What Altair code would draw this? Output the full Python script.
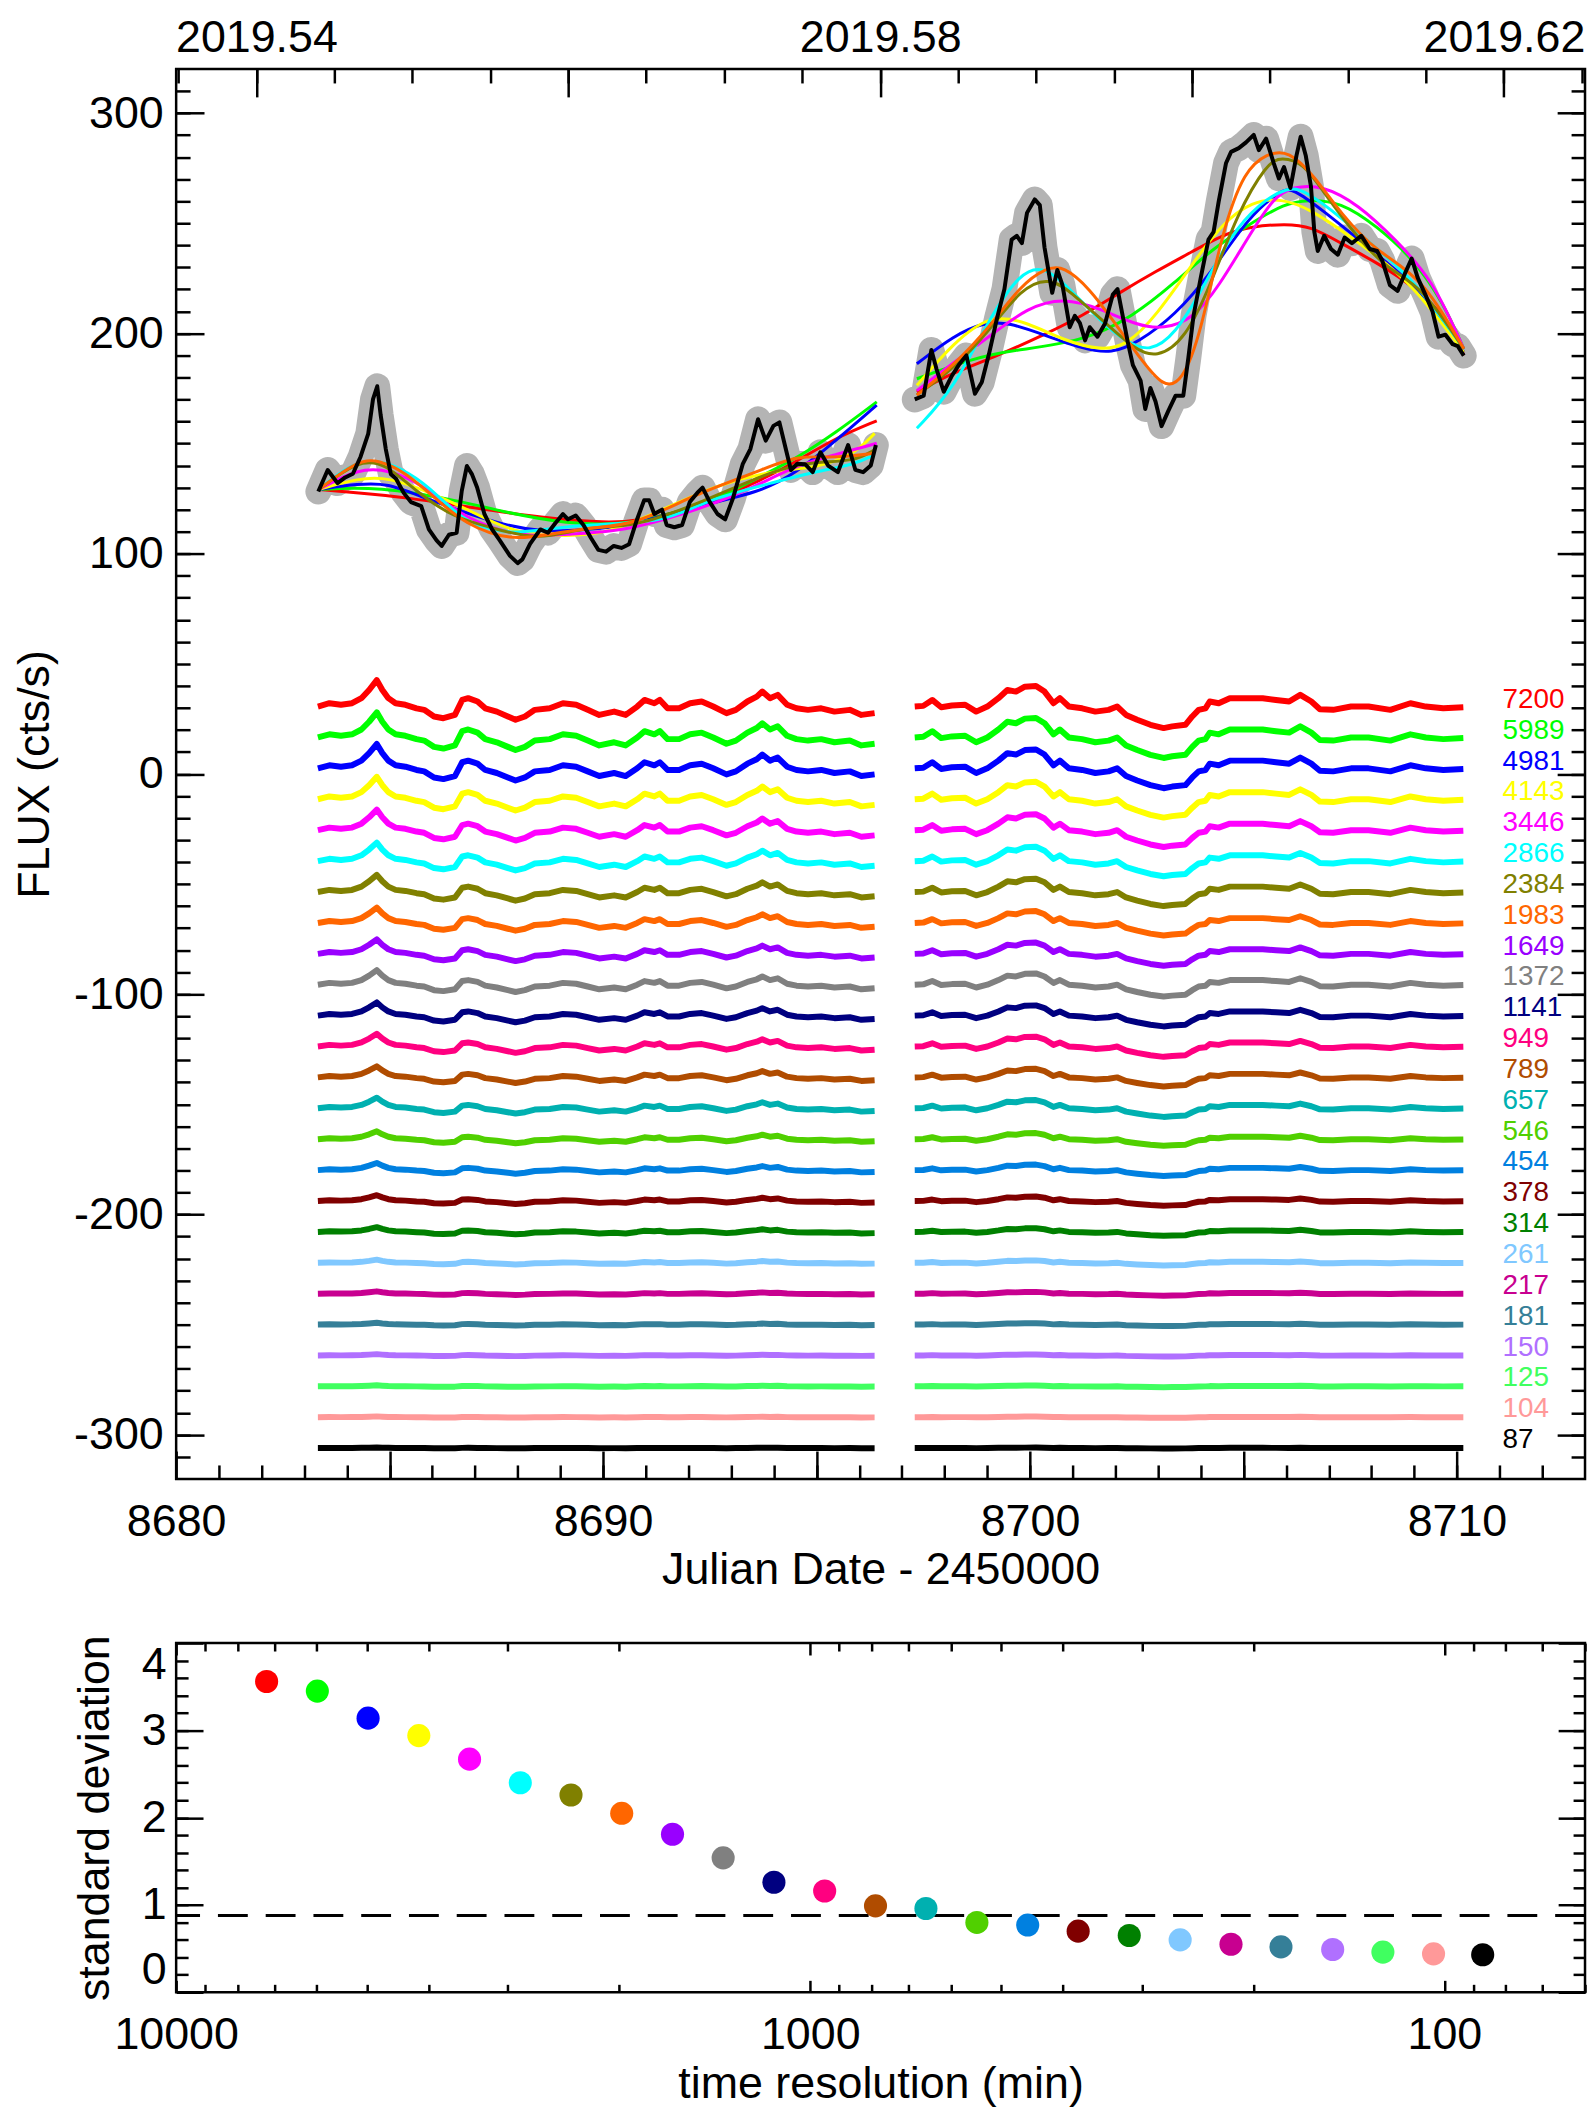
import altair as alt
import pandas as pd

# ---------------- data ----------------
SCALES = [7200, 5989, 4981, 4143, 3446, 2866, 2384, 1983, 1649, 1372, 1141, 949, 789,
          657, 546, 454, 378, 314, 261, 217, 181, 150, 125, 104, 87]
COLORS = ['#FF0000', '#00FF00', '#0000FF', '#FFFF00', '#FF00FF', '#00FFFF', '#808000',
          '#FF6600', '#9900FF', '#808080', '#000080', '#FF0080', '#B04C00', '#00B0B0',
          '#50D000', '#0080E0', '#800000', '#008000', '#80C8FF', '#C80090', '#357F98',
          '#B070FF', '#40FF60', '#FF9999', '#000000']
# standard deviation per time resolution (bottom panel)
STD = [3.56, 3.45, 3.14, 2.94, 2.67, 2.40, 2.26, 2.05, 1.81, 1.54, 1.26, 1.16, 0.99,
       0.96, 0.80, 0.77, 0.70, 0.65, 0.60, 0.55, 0.52, 0.49, 0.46, 0.44, 0.43]
STD_LEVEL = [0.88]
# baselines of the stacked residual curves (30, 16, 2, ... -306)
RES_BASE = [30, 16, 2, -12, -26, -40, -54, -68, -82, -96, -110, -124, -138, -152, -166,
            -180, -194, -208, -222, -236, -250, -264, -278, -292, -306]
# relative amplitude of each residual curve (read against the 7200 curve)
RES_AMP = [1.0, 0.95, 0.92, 0.85, 0.78, 0.7, 0.65, 0.58, 0.55, 0.55, 0.5, 0.48, 0.42,
           0.4, 0.3, 0.27, 0.22, 0.18, 0.12, 0.09, 0.07, 0.05, 0.04, 0.03, 0.02]

# 87-min light curve (black), two observing segments
BLACK_T1 = [8683.33, 8683.55, 8683.78, 8683.96, 8684.14, 8684.32, 8684.50, 8684.61, 8684.71, 8684.79,
            8684.91, 8685.03, 8685.15, 8685.33, 8685.50, 8685.74, 8685.92, 8686.10, 8686.22, 8686.39,
            8686.57, 8686.69, 8686.81, 8686.93, 8687.05, 8687.22, 8687.40, 8687.58, 8687.82, 8688.00,
            8688.11, 8688.29, 8688.53, 8688.71, 8688.88, 8689.06, 8689.18, 8689.36, 8689.54, 8689.72,
            8689.89, 8690.07, 8690.25, 8690.43, 8690.61, 8690.78, 8690.96, 8691.08, 8691.20, 8691.38,
            8691.49, 8691.67, 8691.85, 8692.03, 8692.21, 8692.33, 8692.50, 8692.68, 8692.86, 8693.04,
            8693.27, 8693.45, 8693.63, 8693.81, 8693.99, 8694.13, 8694.28, 8694.40, 8694.55, 8694.73,
            8694.91, 8695.09, 8695.27, 8695.50, 8695.74, 8695.91, 8696.09, 8696.27, 8696.39]
BLACK_F1 = [128.2, 138.0, 132.0, 134.6, 136.3, 144.0, 154.5, 170.0, 176.0, 163.0,
            147.5, 136.0, 134.0, 127.6, 123.4, 121.6, 111.0, 106.0, 103.5, 108.6,
            109.5, 128.5, 139.8, 136.0, 130.0, 118.0, 111.0, 106.0, 99.0, 95.7,
            97.4, 104.4, 111.0, 109.5, 113.8, 118.0, 115.6, 117.3, 113.0, 107.0,
            101.7, 100.9, 103.5, 102.6, 104.3, 114.7, 124.2, 124.2, 118.0, 120.0,
            113.0, 112.0, 113.0, 123.4, 127.7, 130.0, 123.4, 118.0, 115.6, 125.0,
            140.6, 147.5, 161.0, 151.3, 158.0, 159.6, 147.5, 138.0, 140.8, 140.6,
            137.0, 146.0, 140.0, 137.0, 149.3, 138.0, 137.0, 140.0, 149.3]
BLACK_T2 = [8697.30, 8697.51, 8697.69, 8697.81, 8697.98, 8698.16, 8698.33, 8698.51, 8698.71, 8698.87,
            8699.04, 8699.22, 8699.40, 8699.57, 8699.69, 8699.81, 8699.93, 8700.11, 8700.23, 8700.34,
            8700.52, 8700.64, 8700.76, 8700.93, 8701.05, 8701.17, 8701.29, 8701.40, 8701.58, 8701.76,
            8701.94, 8702.05, 8702.17, 8702.29, 8702.41, 8702.59, 8702.70, 8702.82, 8702.94, 8703.08,
            8703.24, 8703.41, 8703.59, 8703.71, 8703.83, 8704.00, 8704.18, 8704.30, 8704.42, 8704.59,
            8704.71, 8704.89, 8705.06, 8705.24, 8705.36, 8705.53, 8705.71, 8705.83, 8705.95, 8706.10,
            8706.24, 8706.34, 8706.46, 8706.58, 8706.66, 8706.74, 8706.89, 8707.05, 8707.21, 8707.37,
            8707.54, 8707.76, 8707.96, 8708.13, 8708.25, 8708.43, 8708.61, 8708.78, 8708.94, 8709.08,
            8709.26, 8709.43, 8709.57, 8709.73, 8709.90, 8710.02, 8710.16]
BLACK_F2 = [170.0, 171.7, 192.5, 183.8, 173.5, 180.4, 185.6, 190.0, 172.6, 177.8,
            190.7, 206.3, 220.0, 242.6, 244.3, 241.0, 254.7, 260.8, 258.2, 239.0,
            218.4, 228.8, 221.9, 202.8, 208.0, 204.6, 196.8, 202.8, 198.5, 204.6,
            217.6, 220.1, 208.0, 196.0, 185.6, 178.6, 165.7, 175.2, 169.1, 157.9,
            164.8, 171.7, 171.7, 189.0, 208.0, 225.3, 242.6, 246.1, 259.9, 277.2,
            282.4, 284.1, 286.7, 290.1, 283.2, 288.4, 277.2, 270.3, 275.5, 266.0,
            280.6, 289.3, 280.6, 266.8, 246.1, 237.4, 244.3, 238.3, 235.7, 243.5,
            240.9, 244.3, 238.3, 237.4, 233.1, 221.9, 219.3, 227.1, 234.0, 225.3,
            217.6, 209.8, 198.5, 199.4, 195.1, 194.2, 189.9]

# smoothed light curves of the longest time resolutions (t, flux)
SM_7200_A = [(8683.34, 129.1), (8684.27, 127.6), (8685.26, 126.0), (8687.58, 119.0), (8688.74, 116.0),
             (8690.07, 114.0), (8690.79, 114.8), (8691.86, 119.3), (8692.75, 125.3), (8693.64, 132.8),
             (8694.53, 141.8), (8695.43, 152.4), (8696.41, 160.3)]
SM_7200_B = [(8697.35, 173.4), (8698.22, 182.4), (8699.08, 188.5), (8700.37, 199.7), (8701.23, 208.0),
             (8702.10, 218.5), (8702.96, 228.3), (8703.82, 237.3), (8704.51, 244.8), (8705.20, 248.6),
             (8705.98, 249.7), (8706.58, 248.6), (8707.27, 241.1), (8708.13, 232.0), (8708.99, 221.5),
             (8709.86, 205.0), (8710.16, 190.0)]
SM_5989_A = [(8683.34, 129.1), (8684.72, 130.6), (8686.68, 123.8), (8687.58, 119.3), (8689.18, 113.3),
             (8690.52, 113.3), (8691.41, 117.0), (8692.75, 125.3), (8693.91, 137.3), (8694.53, 143.3),
             (8695.43, 154.6), (8696.41, 168.9)]
SM_5989_B = [(8697.35, 179.4), (8698.65, 188.5), (8699.51, 192.2), (8701.23, 196.0), (8702.44, 208.0),
             (8703.39, 223.0), (8704.25, 238.0), (8705.12, 249.4), (8705.98, 259.1), (8706.50, 260.6),
             (8707.27, 259.9), (8708.13, 248.6), (8708.99, 233.6), (8709.68, 214.0), (8710.16, 193.0)]
SM_4981_A = [(8683.34, 129.1), (8684.27, 131.8), (8684.99, 131.8), (8685.61, 126.8), (8687.93, 110.3),
             (8689.18, 110.3), (8690.52, 111.8), (8692.30, 122.3), (8693.64, 127.6), (8694.53, 136.6),
             (8695.43, 150.9), (8696.41, 167.4)]
SM_4981_B = [(8697.35, 186.2), (8698.22, 199.0), (8698.91, 205.0), (8699.51, 205.0), (8700.37, 199.0),
             (8701.23, 193.0), (8701.92, 190.7), (8702.53, 196.0), (8703.39, 208.0), (8704.25, 227.5),
             (8705.12, 253.1), (8705.89, 265.1), (8706.15, 265.9), (8706.84, 256.1), (8707.70, 242.6),
             (8708.56, 229.0), (8709.43, 214.0), (8710.16, 191.5)]
SM_4143_A = [(8683.34, 129.1), (8684.27, 134.3), (8684.99, 134.6), (8685.88, 128.3), (8686.77, 120.8),
             (8687.93, 108.8), (8689.18, 108.0), (8690.07, 108.8), (8691.50, 120.8), (8692.66, 131.3),
             (8694.09, 138.1), (8694.98, 138.8), (8695.87, 144.8), (8696.36, 154.6)]
SM_4143_B = [(8697.35, 176.4), (8698.22, 196.0), (8699.08, 208.8), (8699.94, 205.0), (8700.80, 196.7),
             (8701.67, 192.2), (8702.27, 194.5), (8702.96, 208.0), (8703.82, 232.0), (8704.51, 250.1),
             (8705.20, 259.9), (8705.89, 261.4), (8706.58, 256.1), (8707.27, 247.1), (8708.13, 235.1),
             (8708.99, 221.5), (8710.16, 191.5)]
SM_3446_A = [(8683.34, 129.1), (8684.27, 138.8), (8684.99, 138.1), (8685.79, 131.3), (8686.77, 115.5),
             (8688.11, 107.3), (8689.18, 108.8), (8690.52, 110.3), (8691.86, 117.8), (8693.20, 126.8),
             (8694.53, 140.3), (8695.43, 144.8), (8696.41, 150.1)]
SM_3446_B = [(8697.35, 174.0), (8698.22, 186.9), (8699.08, 199.0), (8699.94, 211.8), (8700.80, 216.3),
             (8701.67, 211.0), (8702.53, 203.5), (8703.13, 202.0), (8703.82, 206.5), (8704.43, 221.5),
             (8705.12, 244.0), (8705.72, 262.1), (8706.15, 266.6), (8706.84, 267.4), (8707.70, 258.4),
             (8708.56, 242.6), (8709.43, 224.5), (8710.16, 193.0)]
SM_2866_A = [(8683.34, 129.1), (8684.10, 141.1), (8684.72, 142.6), (8685.26, 138.8), (8685.88, 131.3),
             (8686.77, 114.0), (8687.40, 111.0), (8687.93, 108.8), (8689.36, 113.3), (8691.50, 114.0),
             (8692.30, 123.8), (8694.09, 132.8), (8694.98, 137.3), (8695.87, 140.3), (8696.36, 144.9)]
SM_2866_B = [(8697.35, 156.9), (8698.22, 174.9), (8699.08, 208.0), (8699.77, 227.5), (8700.29, 230.6),
             (8700.80, 223.0), (8701.67, 205.0), (8702.27, 196.0), (8702.79, 191.5), (8703.39, 199.0),
             (8704.08, 221.5), (8704.68, 244.0), (8705.37, 259.1), (8706.06, 266.6), (8706.41, 265.1),
             (8707.27, 253.1), (8708.13, 238.1), (8708.99, 224.5), (8710.16, 193.0)]
SM_2384_A = [(8683.34, 129.1), (8684.27, 142.6), (8684.90, 141.1), (8685.61, 128.3), (8686.50, 116.3),
             (8687.40, 111.8), (8688.47, 105.8), (8689.63, 112.5), (8690.70, 111.8), (8692.30, 123.1),
             (8694.09, 138.8), (8694.98, 141.8), (8695.87, 141.8), (8696.36, 147.1)]
SM_2384_B = [(8697.35, 172.0), (8698.22, 184.0), (8699.08, 202.0), (8699.77, 220.0), (8700.46, 226.0),
             (8701.06, 217.0), (8701.75, 205.0), (8702.44, 193.0), (8702.96, 188.5), (8703.65, 197.5),
             (8704.25, 223.0), (8704.86, 254.6), (8705.55, 277.2), (8705.89, 280.2), (8706.41, 277.2),
             (8706.84, 265.1), (8707.70, 242.6), (8708.39, 229.0), (8709.17, 221.5), (8710.16, 193.0)]
SM_1983_A = [(8683.34, 129.1), (8684.27, 142.6), (8684.72, 142.6), (8685.35, 137.3), (8686.06, 125.3),
             (8686.77, 113.3), (8687.84, 105.8), (8688.74, 108.8), (8689.72, 111.8), (8690.79, 113.3),
             (8692.13, 126.8), (8693.64, 137.3), (8694.53, 144.8), (8695.43, 143.3), (8696.36, 145.6)]
SM_1983_B = [(8697.35, 172.0), (8698.22, 185.5), (8699.08, 203.5), (8699.77, 221.5), (8700.37, 229.8),
             (8700.80, 230.6), (8701.41, 220.0), (8701.92, 206.5), (8702.53, 190.0), (8703.13, 175.0),
             (8703.56, 177.9), (8703.99, 199.0), (8704.51, 247.1), (8705.03, 274.2), (8705.55, 281.7),
             (8706.06, 283.2), (8706.67, 271.2), (8707.27, 254.6), (8708.13, 236.6), (8709.17, 226.0),
             (8710.16, 193.0)]

# residual pattern of the 7200-min curve (deviation from its baseline)
RES_T1 = [8683.32, 8683.59, 8683.86, 8684.12, 8684.34, 8684.52, 8684.70, 8684.83, 8684.97, 8685.14,
          8685.37, 8685.63, 8685.81, 8686.04, 8686.26, 8686.53, 8686.70, 8686.84, 8687.06, 8687.24,
          8687.51, 8687.77, 8687.95, 8688.17, 8688.40, 8688.75, 8689.06, 8689.37, 8689.64, 8689.91,
          8690.26, 8690.53, 8690.80, 8690.97, 8691.20, 8691.33, 8691.51, 8691.78, 8692.04, 8692.31,
          8692.58, 8692.89, 8693.11, 8693.38, 8693.60, 8693.73, 8693.91, 8694.09, 8694.31, 8694.53,
          8694.80, 8695.11, 8695.42, 8695.78, 8696.05, 8696.36]
RES_D1 = [0.6, 2.1, 1.4, 2.1, 4.4, 8.1, 12.6, 8.1, 4.4, 2.1,
          1.4, -0.2, -0.9, -3.9, -4.7, -3.2, 3.6, 4.4, 2.9, -0.2,
          -1.7, -3.9, -5.4, -3.9, -0.9, -0.2, 2.1, 1.4, -0.9, -3.2,
          -1.7, -3.2, 0.6, 3.6, 2.1, 3.6, -0.2, -0.2, 2.1, 2.9,
          0.6, -2.4, -0.9, 2.9, 5.1, 7.4, 4.4, 5.9, 1.4, -0.2,
          -0.9, -0.2, -1.7, -0.9, -3.2, -2.4]
RES_T2 = [8697.30, 8697.50, 8697.71, 8697.92, 8698.17, 8698.48, 8698.74, 8699.00, 8699.26, 8699.47,
          8699.67, 8699.88, 8700.14, 8700.34, 8700.55, 8700.70, 8700.91, 8701.22, 8701.53, 8701.84,
          8702.04, 8702.25, 8702.51, 8702.82, 8703.13, 8703.33, 8703.64, 8703.80, 8703.95, 8704.11,
          8704.21, 8704.42, 8704.68, 8705.04, 8705.45, 8705.76, 8706.07, 8706.33, 8706.59, 8706.79,
          8707.10, 8707.52, 8707.93, 8708.44, 8708.91, 8709.27, 8709.68, 8710.15]
RES_D2 = [0.6, 0.9, 3.6, 0.3, 1.1, 1.4, -1.7, 0.6, 4.4, 8.1,
          7.4, 9.6, 9.9, 7.4, 2.1, 4.4, 0.6, -0.2, -1.7, -0.9,
          0.6, -3.2, -5.4, -7.7, -9.2, -8.4, -7.7, -3.9, -0.9, -0.2,
          2.9, 2.1, 4.4, 4.4, 4.4, 3.6, 2.9, 5.9, 2.9, -0.6,
          -0.9, 0.6, 0.6, -0.9, 2.1, 0.6, -0.2, 0.3]

# decimal-year axis reference: 2019.54 <-> JD 8681.88
YEAR_REF, YEAR_REF_JD = 2019.54, 8681.88

# ---------------- tables ----------------
black = pd.DataFrame({
    't': BLACK_T1 + BLACK_T2,
    'f': BLACK_F1 + BLACK_F2,
    'seg': ['a'] * len(BLACK_T1) + ['b'] * len(BLACK_T2),
})
black['year'] = YEAR_REF + (black['t'] - YEAR_REF_JD) / 365.25

SMOOTH = {7200: (SM_7200_A, SM_7200_B), 5989: (SM_5989_A, SM_5989_B),
          4981: (SM_4981_A, SM_4981_B), 4143: (SM_4143_A, SM_4143_B),
          3446: (SM_3446_A, SM_3446_B), 2866: (SM_2866_A, SM_2866_B),
          2384: (SM_2384_A, SM_2384_B), 1983: (SM_1983_A, SM_1983_B)}
rows = []
for s, segs in SMOOTH.items():
    c = COLORS[SCALES.index(s)]
    for sg, pts in zip('ab', segs):
        for t, f in pts:
            rows.append({'t': t, 'f': f, 'key': f'{s}-{sg}', 'color': c})
smooth = pd.DataFrame(rows)

rows = []
for s, c, base, amp in zip(SCALES, COLORS, RES_BASE, RES_AMP):
    for sg, ts, ds in (('a', RES_T1, RES_D1), ('b', RES_T2, RES_D2)):
        for t, d in zip(ts, ds):
            rows.append({'t': t, 'f': base + amp * d, 'key': f'{s}-{sg}', 'color': c})
resid = pd.DataFrame(rows)

labels = pd.DataFrame({'label': [str(s) for s in SCALES], 'f': RES_BASE, 'color': COLORS})
stdev = pd.DataFrame({'tres': SCALES, 'std': STD, 'color': COLORS})
level = pd.DataFrame({'lvl': STD_LEVEL})

# ---------------- styling helpers ----------------
FONT = 'Liberation Sans'
W, H_TOP, H_BOT = 1416, 1417, 351
JD_SCALE = alt.Scale(domain=[8680, 8713], nice=False, zero=False)
YR_SCALE = alt.Scale(domain=[YEAR_REF + (8680 - YEAR_REF_JD) / 365.25,
                             YEAR_REF + (8713 - YEAR_REF_JD) / 365.25], nice=False, zero=False)
FX_SCALE = alt.Scale(domain=[-320, 320], nice=False, zero=False)
TR_SCALE = alt.Scale(type='log', domain=[60, 10000], reverse=True, nice=False)
SD_SCALE = alt.Scale(domain=[0, 4], nice=False, zero=False)


def ax(orient, values, size, **kw):
    d = dict(orient=orient, values=values, tickSize=size, offset=-size, domain=False,
             grid=False, ticks=True, tickColor='black', tickWidth=2.5, labelOverlap=False,
             labels=False, title=None)
    d.update(kw)
    return alt.Axis(**d)


JD_MAJOR = list(range(8680, 8711, 5))
JD_MINOR = list(range(8681, 8713))
FX_MAJOR = list(range(-300, 301, 100))
FX_MINOR = list(range(-310, 311, 10))
YR_MAJOR = [2019.54, 2019.56, 2019.58, 2019.60, 2019.62]
YR_MINOR = [round(2019.535 + 0.005 * i, 3) for i in range(19)]

# ---------------- top panel ----------------
grey = alt.Chart(black).mark_line(color='#B4B4B4', strokeWidth=26, strokeJoin='round',
                                  strokeCap='round').encode(
    x=alt.X('t:Q', scale=JD_SCALE,
            axis=ax('bottom', JD_MAJOR, 28, labels=True, labelPadding=21, labelFlush=False,
                    labelExpr="datum.value % 10 == 0 ? '' + datum.value : ''",
                    title='Julian Date - 2450000', titlePadding=3)),
    y=alt.Y('f:Q', scale=FX_SCALE,
            axis=ax('left', FX_MAJOR, 28, labels=True, labelPadding=13,
                    labelExpr="'' + datum.value", title='FLUX (cts/s)', titlePadding=16)),
    detail='seg:N')

smooth_l = alt.Chart(smooth).mark_line(strokeWidth=3, interpolate='basis').encode(
    x=alt.X('t:Q', scale=JD_SCALE, axis=None),
    y=alt.Y('f:Q', scale=FX_SCALE, axis=None),
    color=alt.Color('color:N', scale=None),
    detail='key:N')

resid_l = alt.Chart(resid).mark_line(strokeWidth=6, strokeJoin='round').encode(
    x=alt.X('t:Q', scale=JD_SCALE, axis=None),
    y=alt.Y('f:Q', scale=FX_SCALE, axis=None),
    color=alt.Color('color:N', scale=None),
    detail='key:N')

label_l = alt.Chart(labels).mark_text(align='left', baseline='alphabetic', font=FONT,
                                      fontSize=28).encode(
    x=alt.value(1333),
    y=alt.Y('f:Q', scale=FX_SCALE, axis=None),
    text='label:N',
    color=alt.Color('color:N', scale=None))

black_l = alt.Chart(black).mark_line(color='black', strokeWidth=4, strokeJoin='round').encode(
    x=alt.X('t:Q', scale=JD_SCALE, axis=ax('bottom', JD_MINOR, 14)),
    y=alt.Y('f:Q', scale=FX_SCALE, axis=ax('left', FX_MINOR, 14)),
    detail='seg:N')

year_major = alt.Chart(black).mark_point(opacity=0).encode(
    x=alt.X('year:Q', scale=YR_SCALE,
            axis=ax('top', YR_MAJOR, 28, labels=True, labelPadding=9, labelFlush=False,
                    labelExpr="(round(datum.value * 100) % 4 == 2) ? format(datum.value, '.2f') : ''")),
    y=alt.Y('f:Q', scale=FX_SCALE, axis=ax('right', FX_MAJOR, 28)))

year_minor = alt.Chart(black).mark_point(opacity=0).encode(
    x=alt.X('year:Q', scale=YR_SCALE, axis=ax('top', YR_MINOR, 14)),
    y=alt.Y('f:Q', scale=FX_SCALE, axis=ax('right', FX_MINOR, 14)))

top = alt.layer(grey, smooth_l, resid_l, label_l, black_l, year_major, year_minor).resolve_scale(
    x='independent', y='independent').resolve_axis(x='independent', y='independent').properties(
    width=W, height=H_TOP)

# ---------------- bottom panel ----------------
TR_MAJOR = [100, 1000, 10000]
TR_MINOR = [60, 70, 80, 90, 200, 300, 400, 500, 600, 700, 800, 900,
            2000, 3000, 4000, 5000, 6000, 7000, 8000, 9000]
SD_MAJOR = [0, 1, 2, 3, 4]
SD_MINOR = [round(0.2 * i, 1) for i in range(1, 20)]

pts = alt.Chart(stdev).mark_circle(size=540, opacity=1).encode(
    x=alt.X('tres:Q', scale=TR_SCALE,
            axis=ax('bottom', TR_MAJOR, 12, labels=True, labelPadding=21, labelFlush=False,
                    labelExpr="'' + datum.value", title='time resolution (min)', titlePadding=4)),
    y=alt.Y('std:Q', scale=SD_SCALE,
            axis=ax('left', SD_MAJOR, 27, labels=True, labelPadding=10, labelFlush=True,
                    labelExpr="'' + datum.value", title='standard deviation', titlePadding=24)),
    color=alt.Color('color:N', scale=None))

rule = alt.Chart(level).mark_rule(color='black', strokeWidth=3, strokeDash=[30, 18]).encode(
    y=alt.Y('lvl:Q', scale=SD_SCALE, axis=None))

b_minor = alt.Chart(stdev).mark_point(opacity=0).encode(
    x=alt.X('tres:Q', scale=TR_SCALE, axis=ax('bottom', TR_MINOR, 8)),
    y=alt.Y('std:Q', scale=SD_SCALE, axis=ax('left', SD_MINOR, 12)))
b_mirror = alt.Chart(stdev).mark_point(opacity=0).encode(
    x=alt.X('tres:Q', scale=TR_SCALE, axis=ax('top', TR_MAJOR, 12)),
    y=alt.Y('std:Q', scale=SD_SCALE, axis=ax('right', SD_MAJOR, 27)))
b_mirror_minor = alt.Chart(stdev).mark_point(opacity=0).encode(
    x=alt.X('tres:Q', scale=TR_SCALE, axis=ax('top', TR_MINOR, 8)),
    y=alt.Y('std:Q', scale=SD_SCALE, axis=ax('right', SD_MINOR, 12)))

bottom = alt.layer(rule, pts, b_minor, b_mirror, b_mirror_minor).resolve_scale(
    x='independent', y='independent').resolve_axis(x='independent', y='independent').properties(
    width=W, height=H_BOT)

chart = alt.vconcat(top, bottom, spacing=165, bounds='flush').properties(
    padding={'left': 3, 'top': 0, 'right': 0, 'bottom': 0}, background='white'
).configure_view(stroke='black', strokeWidth=2.5).configure_axis(
    labelFont=FONT, titleFont=FONT, labelFontSize=45, titleFontSize=45,
    titleFontWeight='normal', labelColor='black', titleColor='black')

chart.save('out.html', embed_options={'renderer': 'svg', 'actions': False})
